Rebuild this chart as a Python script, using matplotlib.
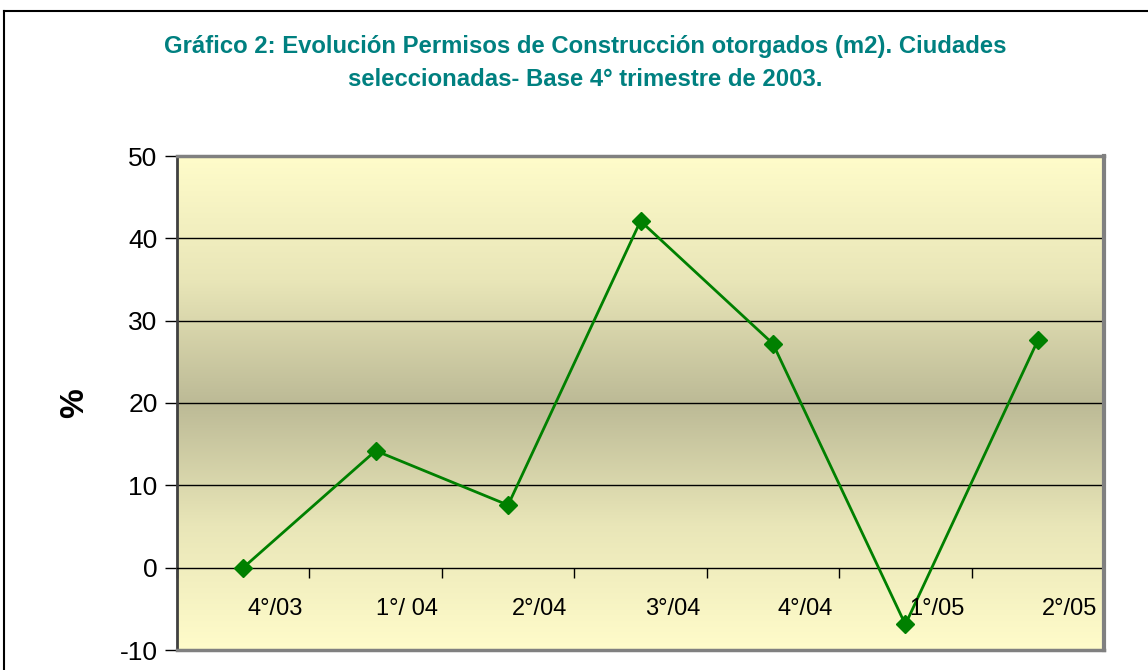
import numpy as np
import matplotlib
matplotlib.use("Agg")
import matplotlib.pyplot as plt
from matplotlib.colors import LinearSegmentedColormap

plt.rcParams['font.family'] = ['Liberation Sans', 'DejaVu Sans']

categories = ["4°/03", "1°/ 04", "2°/04", "3°/04", "4°/04", "1°/05", "2°/05"]
values = [0.0, 14.2, 7.6, 42.1, 27.2, -6.9, 27.6]
yticks = [-10, 0, 10, 20, 30, 40, 50]
title = ("Gráfico 2: Evolución Permisos de Construcción otorgados (m2). Ciudades\n"
         "seleccionadas- Base 4° trimestre de 2003.")

fig = plt.figure(figsize=(11.48, 6.70), dpi=100)
ax = fig.add_axes([177/1148, 1-650/670, (1104-177)/1148, (650-156)/670])

n = len(categories)
x = np.arange(n)
ax.set_xlim(-0.5, n-0.5)
ax.set_ylim(-10, 50)

# gradient background: light at edges, darker in middle
cmap = LinearSegmentedColormap.from_list("bg", ["#fffcca", "#e9e6b8", "#bcba96", "#e9e6b8", "#fffcca"])
grad = np.linspace(0, 1, 256).reshape(-1, 1)
ax.imshow(grad, cmap=cmap, aspect='auto', extent=[-0.5, n-0.5, -10, 50],
          origin='upper', zorder=0, interpolation='bilinear')

# gridlines
for t in yticks[2:-1]:
    ax.axhline(t, color='black', lw=1.0, zorder=1)

ax.plot(x, values, color='#008000', lw=2.0, marker='D', ms=9,
        markerfacecolor='#008000', markeredgecolor='#008000', zorder=3, clip_on=False)

# axes styling
ax.spines['bottom'].set_position(('data', 0))
ax.spines['bottom'].set_color('black')
ax.spines['bottom'].set_linewidth(1.0)
ax.spines['top'].set_visible(False)
ax.spines['right'].set_visible(False)
ax.spines['left'].set_color('#404040')
ax.spines['left'].set_linewidth(2.0)
# frame lines (top, right, bottom) in gray
ax.plot([0, 1], [1, 1], transform=ax.transAxes, color='#808080', lw=2.5, clip_on=False, zorder=4)
ax.plot([1, 1], [0, 1], transform=ax.transAxes, color='#808080', lw=3.0, clip_on=False, zorder=4)
ax.plot([0, 1], [0, 0], transform=ax.transAxes, color='#808080', lw=2.5, clip_on=False, zorder=4)

ax.set_xticks(np.arange(-0.5, n, 1.0))
ax.set_xticklabels([])
ax.tick_params(axis='x', direction='out', length=7, width=1, color='black')
ax.set_yticks(yticks)
ax.set_yticklabels([str(t) for t in yticks])
ax.tick_params(axis='y', direction='out', length=9, width=1, color='black',
               labelsize=19, pad=5)

for i, lab in enumerate(categories):
    ax.text(i + 0.24, -5, lab, ha='center', va='center', fontsize=17, zorder=5)

ax.set_ylabel('%', fontsize=24, fontweight='bold')
ax.yaxis.set_label_coords((90-177)/927, 0.5)

fig.text(585/1148, 1-63/670, title, ha='center', va='center', fontsize=17.2,
         fontweight='bold', color='#008080', linespacing=1.5)

# figure border (partially visible)
fig.add_artist(plt.Line2D([4/1148, 1.01], [1-11/670, 1-11/670], transform=fig.transFigure, color='black', lw=1.5))
fig.add_artist(plt.Line2D([4/1148, 4/1148], [-0.01, 1-11/670], transform=fig.transFigure, color='black', lw=1.5))

fig.savefig('out.png', dpi=100)
